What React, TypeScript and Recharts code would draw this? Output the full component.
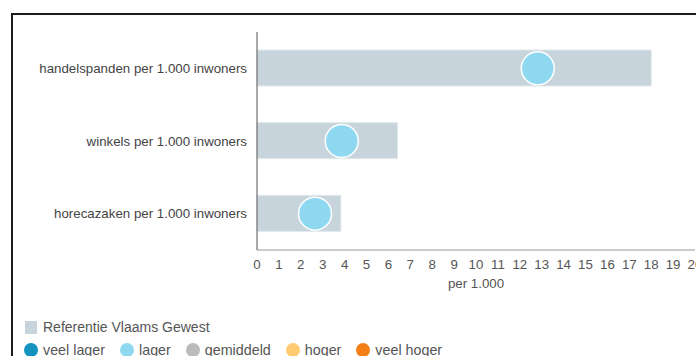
import { Bar, ComposedChart, Scatter, XAxis, YAxis } from "recharts"

const categories = [
  "handelspanden per 1.000 inwoners",
  "winkels per 1.000 inwoners",
  "horecazaken per 1.000 inwoners",
]
const referentie = [18.0, 6.42, 3.83]
const gemeente = [12.82, 3.87, 2.65]
const xTicks = [0, 1, 2, 3, 4, 5, 6, 7, 8, 9, 10, 11, 12, 13, 14, 15, 16, 17, 18, 19, 20]

const legendClasses = ["veel lager", "lager", "gemiddeld", "hoger", "veel hoger"]
const legendColors = ["#1493c1", "#8fd9f0", "#bbbbbb", "#ffcb73", "#f57f17"]

const data = categories.map((name, i) => ({
  name,
  referentie: referentie[i],
  gemeente: gemeente[i],
}))

const font = "Arial, 'Liberation Sans', sans-serif"
const axisFont = 13.3

const Dot = (props: any) => (
  <circle cx={props.cx} cy={props.cy} r={16.5} fill="#8fd9f0" stroke="#ffffff" strokeWidth={1.5} />
)

export default function App() {
  return (
    <div
      style={{
        position: "absolute",
        left: 0,
        top: 0,
        width: 696,
        height: 356,
        overflow: "hidden",
        background: "#fff",
        fontFamily: font,
      }}
    >
      <div
        style={{
          position: "absolute",
          left: 11,
          top: 13,
          width: 760,
          height: 400,
          border: "2px solid #1c1c1c",
        }}
      >
        <ComposedChart
          width={700}
          height={300}
          data={data}
          layout="vertical"
          margin={{ top: 17, right: 18, bottom: 15, left: 0 }}
        >
          <XAxis
            type="number"
            domain={[0, 20]}
            ticks={xTicks}
            interval={0}
            tickLine={false}
            tickMargin={4}
            stroke="#999999"
            height={50}
            tick={{ fill: "#555555", fontSize: axisFont, fontFamily: font }}
            label={{
              value: "per 1.000",
              position: "insideBottom",
              offset: 12,
              fill: "#555555",
              fontSize: axisFont,
              fontFamily: font,
            }}
          />
          <YAxis
            type="category"
            dataKey="name"
            width={244}
            tickLine={false}
            tickMargin={4}
            stroke="#555555"
            tick={{ fill: "#444444", fontSize: axisFont, fontFamily: font }}
          />
          <Bar
            dataKey="referentie"
            barSize={36}
            fill="#c7d4db"
            stroke="#e0e8eb"
            strokeWidth={1}
            isAnimationActive={false}
          />
          <Scatter dataKey="gemeente" shape={Dot} isAnimationActive={false} />
        </ComposedChart>
      </div>

      <div
        style={{
          position: "absolute",
          left: 25,
          top: 318,
          fontSize: 14,
          color: "#555555",
          lineHeight: "18px",
        }}
      >
        <div style={{ display: "flex", alignItems: "center", height: 18 }}>
          <span style={{ display: "inline-block", width: 12, height: 13, background: "#c7d4db", marginRight: 6 }} />
          Referentie Vlaams Gewest
        </div>
        <div
          style={{
            display: "flex",
            alignItems: "center",
            height: 18,
            marginTop: 5,
            marginLeft: -1,
            fontSize: 14.3,
          }}
        >
          {legendClasses.map((c, i) => (
            <span key={c} style={{ display: "flex", alignItems: "center", marginRight: 15 }}>
              <span
                style={{
                  display: "inline-block",
                  width: 14,
                  height: 14,
                  borderRadius: "50%",
                  background: legendColors[i],
                  marginRight: 5,
                }}
              />
              {c}
            </span>
          ))}
        </div>
      </div>
    </div>
  )
}
